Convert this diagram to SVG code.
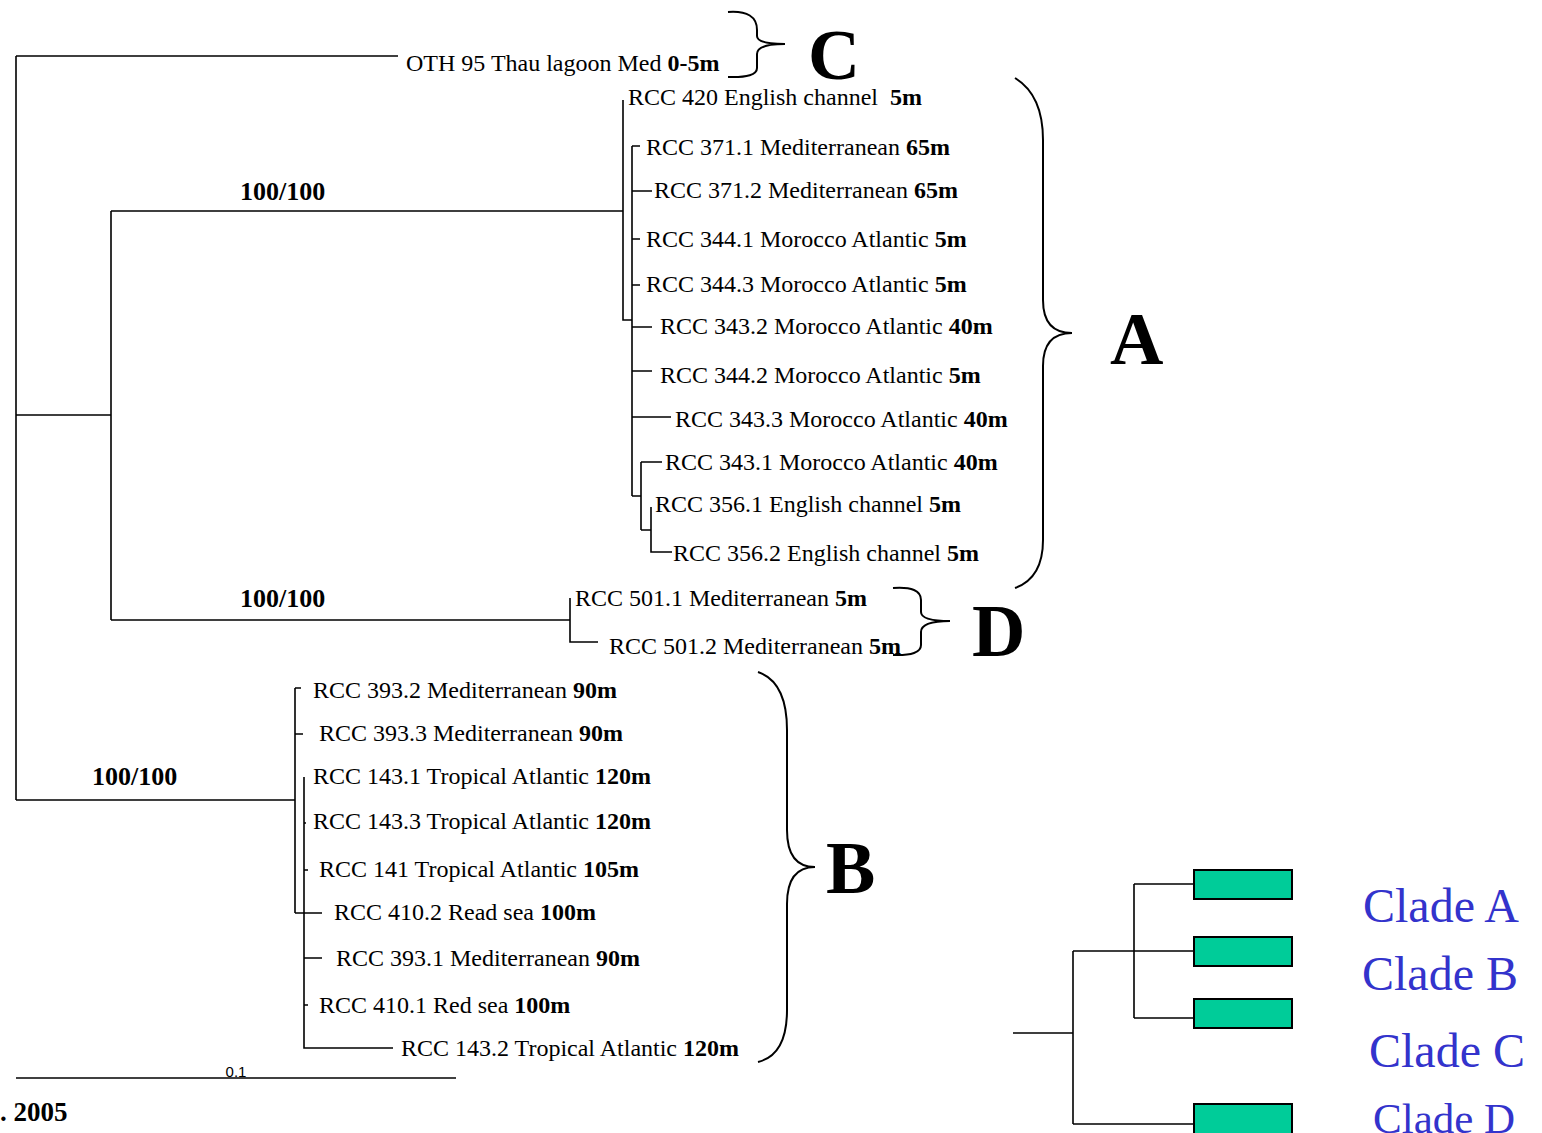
<svg xmlns="http://www.w3.org/2000/svg" width="1542" height="1133" viewBox="0 0 1542 1133">
<style>
.t{font-family:"Liberation Serif","Times New Roman",serif;font-size:24px;fill:#000}
.b{font-weight:bold}
.bs{font-family:"Liberation Serif","Times New Roman",serif;font-size:26px;font-weight:bold;fill:#000}
.big{font-family:"Liberation Serif","Times New Roman",serif;font-size:74px;font-weight:bold;fill:#000}
.cl{font-family:"Liberation Serif","Times New Roman",serif;font-size:48px;fill:#3333CC}
.ln{stroke:#000;stroke-width:1.6;fill:none}
.br{stroke:#000;stroke-width:2;fill:none}
.box{fill:#00CC99;stroke:#000;stroke-width:2}
</style>
<rect width="1542" height="1133" fill="#fff"/>
<g id="connectors">
<path class="ln" d="M16,56 H398 M16,56 V800 M16,415 H111 M111,211 V620 M111,211 H623 M111,620 H570 M16,800 H295"/>
<path class="ln" d="M623,100 V320 H632 M632,146 V496 M632,146 H640 M632,191 H652 M632,239 H640 M632,285 H640 M632,327 H652 M632,371 H652 M632,417 H671 M632,496 H641 M641,462 V530 M641,462 H662 M641,530 H651 M651,507 V552 H672"/>
<path class="ln" d="M570,598 V642 H598"/>
<path class="ln" d="M295,688 V913 M295,688 H301 M295,734 H303 M295,913 H322 M304,777 V1048 H393 M304,823 H306 M304,870 H308 M304,958 H322 M304,1005 H308"/>
<path class="ln" d="M16,1078 H456"/>
<path class="br" d="M728,12 Q757,10 757,30 L757,36 Q757,44 785,44 Q757,44 757,54 L757,68 Q757,78 728,77"/>
<path class="br" d="M1015,78 Q1043,95 1043,140 L1043,300 Q1043,333 1072,333 Q1043,333 1043,366 L1043,540 Q1043,578 1015,588"/>
<path class="br" d="M893,588 Q921,586 921,600 L921,612 Q921,621 950,621 Q921,621 921,632 L921,645 Q921,656 893,655"/>
<path class="br" d="M758,672 Q787,682 787,730 L787,830 Q787,867 815,867 Q787,867 787,904 L787,1010 Q787,1055 758,1062"/>
</g>
<g id="tips">
<g id="n-oth"><text class="t" x="406" y="71">OTH 95 Thau lagoon Med <tspan class="b">0-5m</tspan></text></g>
<g id="n-420"><text class="t" x="628" y="105" xml:space="preserve">RCC 420 English channel  <tspan class="b">5m</tspan></text></g>
<g id="n-3711"><text class="t" x="646" y="155">RCC 371.1 Mediterranean <tspan class="b">65m</tspan></text></g>
<g id="n-3712"><text class="t" x="654" y="198">RCC 371.2 Mediterranean <tspan class="b">65m</tspan></text></g>
<g id="n-3441"><text class="t" x="646" y="247">RCC 344.1 Morocco Atlantic <tspan class="b">5m</tspan></text></g>
<g id="n-3443"><text class="t" x="646" y="292">RCC 344.3 Morocco Atlantic <tspan class="b">5m</tspan></text></g>
<g id="n-3432"><text class="t" x="660" y="334">RCC 343.2 Morocco Atlantic <tspan class="b">40m</tspan></text></g>
<g id="n-3442"><text class="t" x="660" y="383">RCC 344.2 Morocco Atlantic <tspan class="b">5m</tspan></text></g>
<g id="n-3433"><text class="t" x="675" y="427">RCC 343.3 Morocco Atlantic <tspan class="b">40m</tspan></text></g>
<g id="n-3431"><text class="t" x="665" y="470">RCC 343.1 Morocco Atlantic <tspan class="b">40m</tspan></text></g>
<g id="n-3561"><text class="t" x="655" y="512">RCC 356.1 English channel <tspan class="b">5m</tspan></text></g>
<g id="n-3562"><text class="t" x="673" y="561">RCC 356.2 English channel <tspan class="b">5m</tspan></text></g>
<g id="n-5011"><text class="t" x="575" y="606">RCC 501.1 Mediterranean <tspan class="b">5m</tspan></text></g>
<g id="n-5012"><text class="t" x="609" y="654">RCC 501.2 Mediterranean <tspan class="b">5m</tspan></text></g>
<g id="n-3932"><text class="t" x="313" y="698">RCC 393.2 Mediterranean <tspan class="b">90m</tspan></text></g>
<g id="n-3933"><text class="t" x="319" y="741">RCC 393.3 Mediterranean <tspan class="b">90m</tspan></text></g>
<g id="n-1431"><text class="t" x="313" y="784">RCC 143.1 Tropical Atlantic <tspan class="b">120m</tspan></text></g>
<g id="n-1433"><text class="t" x="313" y="829">RCC 143.3 Tropical Atlantic <tspan class="b">120m</tspan></text></g>
<g id="n-141"><text class="t" x="319" y="877">RCC 141 Tropical Atlantic <tspan class="b">105m</tspan></text></g>
<g id="n-4102"><text class="t" x="334" y="920">RCC 410.2 Read sea <tspan class="b">100m</tspan></text></g>
<g id="n-3931"><text class="t" x="336" y="966">RCC 393.1 Mediterranean <tspan class="b">90m</tspan></text></g>
<g id="n-4101"><text class="t" x="319" y="1013">RCC 410.1 Red sea <tspan class="b">100m</tspan></text></g>
<g id="n-1432"><text class="t" x="401" y="1056">RCC 143.2 Tropical Atlantic <tspan class="b">120m</tspan></text></g>
</g>
<g id="support">
<text class="bs" x="240" y="200">100/100</text>
<text class="bs" x="240" y="607">100/100</text>
<text class="bs" x="92" y="785">100/100</text>
</g>
<g id="clade-letters">
<text class="big" x="808" y="79" style="font-size:72px">C</text>
<text class="big" x="1110" y="364">A</text>
<text class="big" x="972" y="656">D</text>
<text class="big" x="826" y="893">B</text>
</g>
<g id="scale">
<text x="236" y="1077" text-anchor="middle" font-family="Liberation Sans,Arial,sans-serif" font-size="15">0.1</text>
<text class="bs" x="0" y="1121" style="font-size:27px">. 2005</text>
</g>
<g id="legend">
<path class="ln" d="M1013,1033 H1073 M1073,951 V1124 M1073,951 H1194 M1073,1124 H1194 M1134,884 V1018 M1134,884 H1194 M1134,1018 H1194"/>
<rect class="box" x="1194" y="870" width="98" height="29"/>
<rect class="box" x="1194" y="937" width="98" height="29"/>
<rect class="box" x="1194" y="999" width="98" height="29"/>
<rect class="box" x="1194" y="1104" width="98" height="32"/>
<text class="cl" x="1363" y="922">Clade A</text>
<text class="cl" x="1362" y="990">Clade B</text>
<text class="cl" x="1369" y="1067">Clade C</text>
<text class="cl" x="1373" y="1133" style="font-size:43px">Clade D</text>
</g>
</svg>
